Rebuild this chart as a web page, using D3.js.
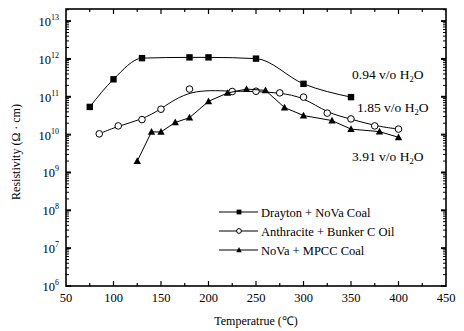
<!DOCTYPE html>
<html><head><meta charset="utf-8">
<script src="https://cdn.jsdelivr.net/npm/d3@7"></script>
<style>
body{margin:0;background:#fff;}
text{font-family:"Liberation Serif","Times New Roman",serif;fill:#000;}
</style></head>
<body><svg id="c" width="464" height="331"></svg>
<script>
// Data
const dTemp = [75, 100, 130, 180, 200, 250, 300, 350];
const dRes  = [5.4e10, 2.9e11, 1.05e12, 1.1e12, 1.1e12, 1.02e12, 2.2e11, 9.8e10];
const aTemp = [85, 105, 130, 150, 180, 225, 250, 275, 300, 325, 350, 375, 400];
const aRes  = [1.05e10, 1.7e10, 2.5e10, 4.7e10, 1.6e11, 1.38e11, 1.4e11, 1.27e11, 9.8e10, 3.7e10, 2.6e10, 1.7e10, 1.4e10];
const nTemp = [125, 140, 150, 165, 180, 200, 220, 240, 260, 280, 300, 330, 350, 380, 400];
const nRes  = [2.0e9, 1.18e10, 1.18e10, 2.1e10, 2.8e10, 7.6e10, 1.26e11, 1.6e11, 1.48e11, 5.2e10, 3.2e10, 2.35e10, 1.4e10, 1.2e10, 8.5e9];
const seriesNames = ["Drayton + NoVa Coal", "Anthracite + Bunker C Oil", "NoVa + MPCC Coal"];
const waterLabels = ["0.94", "1.85", "3.91"];
const xTicks = [50, 100, 150, 200, 250, 300, 350, 400, 450];
const yExps = [6, 7, 8, 9, 10, 11, 12, 13];

const svg = d3.select("#c");
const L = 66, R = 446, T = 9, B = 286;
const x = d3.scaleLinear().domain([50, 450]).range([L, R]);
const y = d3.scaleLog().domain([1e6, Math.pow(10, 13.32)]).range([B, T]);

// minor ticks
const g = svg.append("g");
const minorY = [];
for (let e = 6; e <= 13; e++) for (let m = 1; m <= 9; m++) { const v = m * Math.pow(10, e); if (v <= y.domain()[1]) minorY.push(v); }
minorY.forEach(v => {
  const major = Math.abs(Math.log10(v) - Math.round(Math.log10(v))) < 1e-9;
  const len = major ? 5 : 3;
  g.append("line").attr("x1", L).attr("x2", L + len).attr("y1", y(v)).attr("y2", y(v)).attr("stroke", "#000").attr("stroke-width", major ? 2 : 1);
  g.append("line").attr("x1", R).attr("x2", R - len).attr("y1", y(v)).attr("y2", y(v)).attr("stroke", "#000").attr("stroke-width", major ? 2 : 1);
});
for (let t = 75; t < 450; t += 25) {
  const major = t % 50 === 0;
  const len = major ? 5 : 3;
  g.append("line").attr("x1", x(t)).attr("x2", x(t)).attr("y1", B).attr("y2", B - len).attr("stroke", "#000").attr("stroke-width", 1.2);
  g.append("line").attr("x1", x(t)).attr("x2", x(t)).attr("y1", T).attr("y2", T + len).attr("stroke", "#000").attr("stroke-width", 1.2);
}
// frame
svg.append("rect").attr("x", L).attr("y", T).attr("width", R - L).attr("height", B - T).attr("fill", "none").attr("stroke", "#000").attr("stroke-width", 1.6);

// x labels
xTicks.forEach(t => {
  svg.append("text").attr("x", x(t)).attr("y", 302).attr("text-anchor", "middle").attr("font-size", 12.5).text(t);
});
// y labels
yExps.forEach(e => {
  const tx = svg.append("text").attr("x", 59).attr("y", y(Math.pow(10, e)) + 5).attr("text-anchor", "end").attr("font-size", 12.5);
  tx.append("tspan").text("10");
  tx.append("tspan").attr("dy", -6).attr("font-size", 8).text(e);
});
svg.append("text").attr("x", 256).attr("y", 325).attr("text-anchor", "middle").attr("font-size", 12).text("Temperatrue (℃)");
svg.append("text").attr("transform", "translate(20,152) rotate(-90)").attr("text-anchor", "middle").attr("font-size", 12).text("Resistivity (Ω · cm)");

// series
const series = [
  {t: dTemp, r: dRes, curve: d3.curveMonotoneX, sym: "square"},
  {t: aTemp, r: aRes, curve: d3.curveBasis, sym: "circle"},
  {t: nTemp, r: nRes, curve: d3.curveLinear, sym: "triangle"}
];
function drawSym(sel, sym, cx, cy, s) {
  if (sym === "square") sel.append("rect").attr("x", cx - s).attr("y", cy - s).attr("width", 2 * s).attr("height", 2 * s).attr("fill", "#000");
  else if (sym === "circle") sel.append("circle").attr("cx", cx).attr("cy", cy).attr("r", s).attr("fill", "#fff").attr("stroke", "#000").attr("stroke-width", 1);
  else sel.append("path").attr("d", `M${cx},${cy - s * 1.2}L${cx + s * 1.15},${cy + s * 0.9}L${cx - s * 1.15},${cy + s * 0.9}Z`).attr("fill", "#000");
}
series.forEach(s => {
  const pts = s.t.map((t, i) => [x(t), y(s.r[i])]);
  svg.append("path").attr("d", d3.line().curve(s.curve)(pts)).attr("fill", "none").attr("stroke", "#000").attr("stroke-width", 1);
  const mg = svg.append("g");
  pts.forEach(p => drawSym(mg, s.sym, p[0], p[1], s.sym === "circle" ? 3.3 : 3.2));
});

// water labels
const wpos = [[352, 79], [357, 112], [352, 161]];
waterLabels.forEach((w, i) => {
  const t = svg.append("text").attr("x", wpos[i][0]).attr("y", wpos[i][1]).attr("font-size", 13.5);
  t.append("tspan").text(w + " v/o H");
  t.append("tspan").attr("dy", 3).attr("font-size", 8.5).text("2");
  t.append("tspan").attr("dy", -3).text("O");
});

// legend
seriesNames.forEach((n, i) => {
  const ly = 212 + i * 19;
  svg.append("line").attr("x1", 219).attr("x2", 258).attr("y1", ly).attr("y2", ly).attr("stroke", "#000").attr("stroke-width", 1);
  drawSym(svg, series[i].sym, 239, ly, 2.4);
  svg.append("text").attr("x", 261).attr("y", ly + 4.5).attr("font-size", 12.5).text(n);
});
</script></body></html>
